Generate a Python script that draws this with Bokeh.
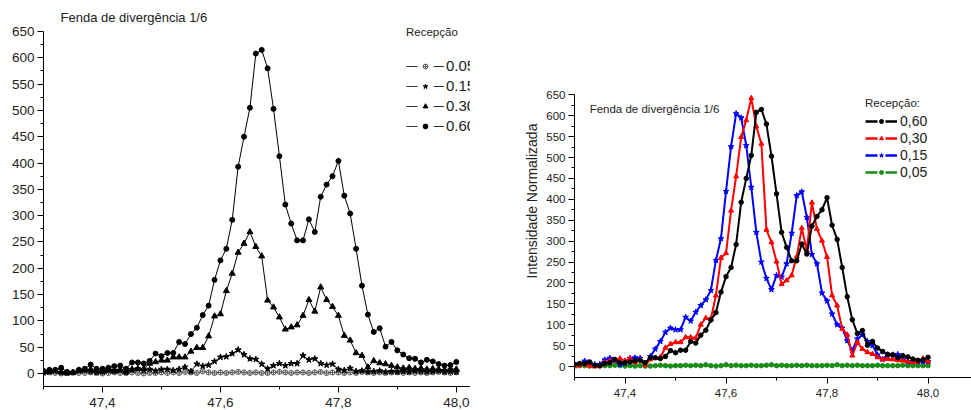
from bokeh.plotting import figure
from bokeh.layouts import row, column
from bokeh.models import FixedTicker, CustomJSTickFormatter, Legend, LegendItem, Label
from bokeh.embed import file_html
from bokeh.resources import INLINE

FONT = "Liberation Sans"

# 2-theta positions (degrees)
two_theta = [47.30, 47.31, 47.32, 47.33, 47.34, 47.35, 47.36, 47.37, 47.38, 47.39,
             47.40, 47.41, 47.42, 47.43, 47.44, 47.45, 47.46, 47.47, 47.48, 47.49,
             47.50, 47.51, 47.52, 47.53, 47.54, 47.55, 47.56, 47.57, 47.58, 47.59,
             47.60, 47.61, 47.62, 47.63, 47.64, 47.65, 47.66, 47.67, 47.68, 47.69,
             47.70, 47.71, 47.72, 47.73, 47.74, 47.75, 47.76, 47.77, 47.78, 47.79,
             47.80, 47.81, 47.82, 47.83, 47.84, 47.85, 47.86, 47.87, 47.88, 47.89,
             47.90, 47.91, 47.92, 47.93, 47.94, 47.95, 47.96, 47.97, 47.98, 47.99,
             48.00]

# Left panel: raw intensities per reception slit
raw_060 = [5, 7, 7, 11, 3, 2, 7, 9, 17, 9,
           9, 11, 14, 15, 9, 21, 21, 19, 24, 38,
           33, 39, 39, 60, 56, 75, 87, 111, 129, 178,
           215, 237, 292, 393, 450, 505, 608, 615, 580, 503,
           413, 321, 285, 253, 253, 293, 269, 336, 359, 375,
           404, 338, 304, 237, 167, 112, 79, 86, 51, 60,
           44, 36, 29, 28, 21, 26, 23, 18, 15, 16,
           22]
raw_030 = [3, 4, 5, 3, 1, 2, 6, 7, 8, 5,
           4, 7, 4, 7, 3, 8, 9, 9, 19, 22,
           25, 25, 31, 31, 31, 42, 49, 49, 71, 109,
           113, 157, 190, 230, 247, 269, 241, 223, 139, 126,
           107, 84, 88, 92, 110, 140, 118, 164, 140, 127,
           110, 72, 63, 39, 34, 12, 24, 20, 18, 15,
           12, 10, 11, 9, 10, 8, 9, 8, 7, 9,
           8]
raw_015 = [2, 3, 5, 2, 1, 2, 5, 6, 4, 2,
           3, 6, 6, 6, 2, 7, 9, 6, 8, 5,
           8, 8, 6, 8, 12, 4, 18, 14, 16, 23,
           31, 32, 38, 45, 36, 28, 27, 18, 9, 15,
           19, 15, 19, 19, 34, 26, 28, 19, 16, 18,
           8, 6, 10, 4, 5, 3, 4, 5, 3, 4,
           3, 4, 3, 5, 4, 3, 4, 5, 3, 4,
           3]
raw_005 = [1, 2, 1, 0, 1, 2, 1, 1, 2, 1,
           0, 1, 2, 1, 1, 2, 1, 0, 1, 1,
           2, 1, 2, 1, 3, 2, 1, 4, 2, 1,
           2, 1, 2, 3, 2, 1, 2, 1, 1, 2,
           3, 2, 1, 2, 2, 1, 2, 3, 1, 2,
           2, 1, 2, 1, 3, 2, 1, 2, 1, 2,
           2, 1, 2, 1, 2, 1, 2, 3, 2, 1,
           2]

# Right panel: normalized intensities
norm_060 = [5, 7, 7, 11, 3, 2, 7, 9, 17, 9,
            9, 11, 14, 15, 9, 21, 21, 19, 24, 38,
            33, 39, 39, 60, 56, 75, 87, 111, 129, 178,
            215, 237, 292, 393, 450, 505, 608, 615, 580, 503,
            413, 321, 285, 253, 253, 293, 269, 336, 359, 375,
            404, 338, 304, 237, 167, 112, 79, 86, 51, 60,
            44, 36, 29, 28, 21, 26, 23, 18, 15, 16,
            22]
norm_030 = [0, 3, 5, 2, 0, 2, 10, 14, 14, 19,
            14, 19, 10, 16, 3, 17, 20, 22, 45, 54,
            58, 58, 70, 70, 68, 100, 116, 114, 170, 260,
            271, 373, 455, 549, 589, 642, 574, 533, 327, 297,
            251, 197, 206, 218, 263, 331, 277, 392, 329, 301,
            262, 170, 146, 90, 76, 26, 58, 42, 34, 30,
            22, 17, 18, 17, 15, 14, 12, 10, 12, 19,
            12]
norm_015 = [6, 6, 13, 8, 5, 5, 16, 20, 14, 5,
            8, 20, 21, 20, 6, 24, 42, 60, 82, 92,
            88, 88, 118, 109, 130, 146, 160, 182, 254, 306,
            419, 526, 605, 595, 529, 429, 321, 250, 211, 184,
            218, 214, 246, 319, 409, 418, 357, 268, 246, 176,
            157, 126, 100, 92, 62, 38, 66, 76, 60, 50,
            28, 17, 28, 28, 29, 17, 12, 12, 12, 12,
            12]
norm_005 = [3, 2, 2, 1, 2, 1, 2, 2, 3, 2,
            1, 2, 1, 2, 1, 1, 2, 3, 2, 1,
            2, 2, 3, 2, 3, 2, 4, 2, 1, 2,
            4, 2, 3, 2, 2, 3, 2, 2, 3, 4,
            2, 3, 2, 2, 3, 2, 3, 2, 2, 2,
            3, 2, 4, 2, 3, 2, 3, 2, 2, 2,
            3, 2, 2, 2, 2, 3, 2, 2, 2, 2,
            2]

x_major = [47.4, 47.6, 47.8, 48.0]
x_minor = [47.3, 47.5, 47.7, 47.9]
y_major = [0, 50, 100, 150, 200, 250, 300, 350, 400, 450, 500, 550, 600, 650]
y_minor = [25, 75, 125, 175, 225, 275, 325, 375, 425, 475, 525, 575, 625]

left_labels = ["0.05", "0.15", "0.30", "0.60"]
right_labels = ["0,60", "0,30", "0,15", "0,05"]
title_text = "Fenda de divergência 1/6"
legend_title_left = "Recepção"
legend_title_right = "Recepção:"
y_axis_title = "Intensidade Normalizada"

comma_fmt = CustomJSTickFormatter(code="return tick.toFixed(1).replace('.', ',');")

H = 410
FRAME_TOP = 24


def style(p, size):
    p.outline_line_color = None
    p.grid.visible = False
    p.background_fill_color = "white"
    p.border_fill_color = "white"
    for ax in (p.xaxis[0], p.yaxis[0]):
        ax.axis_line_color = "black"
        ax.axis_line_width = 1
        ax.major_tick_line_color = "black"
        ax.minor_tick_line_color = "black"
        ax.major_tick_in = 0
        ax.major_tick_out = 6
        ax.minor_tick_in = 0
        ax.minor_tick_out = 3
        ax.major_label_text_font = FONT
        ax.major_label_text_font_size = size
        ax.major_label_text_color = "#222222"
    p.xaxis[0].ticker = FixedTicker(ticks=x_major, minor_ticks=x_minor)
    p.yaxis[0].ticker = FixedTicker(ticks=y_major, minor_ticks=y_minor)
    p.xaxis[0].formatter = comma_fmt


# ---------------- left panel ----------------
p1 = figure(width=470, height=H, x_range=(47.30, 48.024), y_range=(-24.7, 663.3),
            output_backend="svg", toolbar_location=None,
            min_border_left=43, min_border_right=0,
            min_border_top=FRAME_TOP, min_border_bottom=24)
style(p1, "13.5px")
p1.yaxis[0].bounds = (-24.7, 650)
p1.xaxis[0].major_label_standoff = 5
p1.yaxis[0].major_label_standoff = 3
p1.title.text = title_text
p1.title.text_font = FONT
p1.title.text_font_size = "13px"
p1.title.text_font_style = "normal"
p1.title.text_color = "#222222"
p1.title.align = "left"
p1.title.offset = 17
p1.title.standoff = 0

left_series = [
    (raw_005, "circle_cross", 5, "white", "#555555"),
    (raw_015, "star", 6.5, "black", "black"),
    (raw_030, "triangle", 6, "black", "black"),
    (raw_060, "circle", 5, "black", "black"),
]
items = []
for (vals, marker, size, fc, lc), lab in zip(left_series, left_labels):
    p1.line(two_theta, vals, line_color="black", line_width=1)
    p1.scatter(two_theta, vals, marker=marker, size=size, fill_color=fc, line_color=lc)
    # legend-only glyphs, placed outside the visible range
    lr = p1.line([40.0], [0], line_color="#333333", line_width=1, line_dash="11 16")
    sr = p1.scatter([40.0], [0], marker=marker, fill_color=fc, line_color=lc)
    items.append(LegendItem(label=lab, renderers=[lr, sr]))

leg1 = Legend(items=items, location=(363, 252), title=legend_title_left,
              title_text_font=FONT, title_text_font_size="11.5px", title_text_font_style="normal",
              title_text_color="#222222", title_standoff=19,
              label_text_font=FONT, label_text_font_size="15px", label_text_color="#222222",
              glyph_width=38, glyph_height=12, label_height=12, label_standoff=2, spacing=3,
              padding=0, margin=0, border_line_alpha=0, background_fill_alpha=0)
p1.add_layout(leg1)

# ---------------- right panel ----------------
p2 = figure(width=501, height=H, x_range=(47.30, 48.086), y_range=(-26.3, 818.2),
            output_backend="svg", toolbar_location=None,
            min_border_left=104, min_border_right=0,
            min_border_top=FRAME_TOP, min_border_bottom=33)
style(p2, "11.5px")
p2.yaxis[0].bounds = (-26.3, 650)
p2.xaxis[0].major_label_standoff = 5
p2.yaxis[0].major_label_standoff = 3
p2.yaxis[0].axis_label = y_axis_title
p2.yaxis[0].axis_label_text_font = FONT
p2.yaxis[0].axis_label_text_font_size = "14px"
p2.yaxis[0].axis_label_text_font_style = "normal"
p2.yaxis[0].axis_label_text_color = "#222222"
p2.yaxis[0].axis_label_standoff = 3

right_series = [
    (norm_005, "circle", 4.5, "#1a8c1a"),
    (norm_015, "star", 6, "#0000ff"),
    (norm_030, "triangle", 5, "#ff0000"),
    (norm_060, "circle", 4.5, "black"),
]
ritems = {}
for vals, marker, size, col in right_series:
    p2.line(two_theta, vals, line_color=col, line_width=2)
    p2.scatter(two_theta, vals, marker=marker, size=size, fill_color=col, line_color=col)
for (vals, marker, size, col), lab in zip(right_series[::-1], right_labels):
    lr = p2.line([40.0], [0], line_color=col, line_width=2.5, line_dash="12 8")
    sr = p2.scatter([40.0], [0], marker=marker, fill_color=col, line_color=col)
    ritems[lab] = LegendItem(label=lab, renderers=[lr, sr])

leg2 = Legend(items=[ritems[l] for l in right_labels], location=(291, 197), title=legend_title_right,
              title_text_font=FONT, title_text_font_size="11.5px", title_text_font_style="normal",
              title_text_color="#222222", title_standoff=4,
              label_text_font=FONT, label_text_font_size="14px", label_text_color="#222222",
              glyph_width=32, glyph_height=10, label_height=10, label_standoff=3, spacing=1,
              padding=0, margin=0, border_line_alpha=0, background_fill_alpha=0)
p2.add_layout(leg2)

p2.add_layout(Label(x=47.33, y=615, text=title_text, text_font=FONT, text_font_size="11.5px",
                    text_color="#222222", text_baseline="middle"))

layout = row(column(p1), column(p2))
open("out.html", "w").write(file_html(layout, INLINE))
